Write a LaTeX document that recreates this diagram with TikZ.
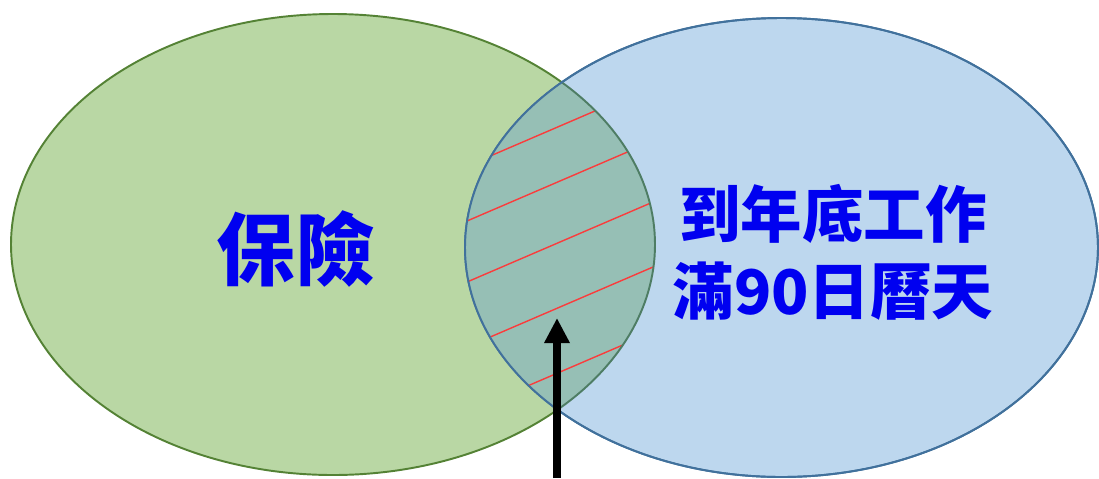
\documentclass[tikz,border=0pt]{standalone}
\usepackage{fontspec}
\newfontfamily\cjk{Noto Sans CJK TC}
\usetikzlibrary{arrows.meta,positioning}

\definecolor{setgreen}{RGB}{185,215,164}
\definecolor{greenline}{RGB}{84,130,53}
\definecolor{setblue}{RGB}{189,215,238}
\definecolor{blueline}{RGB}{65,113,156}
\definecolor{lensfill}{RGB}{150,191,181}
\definecolor{lensline}{RGB}{78,125,100}
\definecolor{hatchred}{RGB}{250,60,60}
\definecolor{labelblue}{RGB}{0,0,240}

\begin{document}
\begin{tikzpicture}[
            x=0.02cm, y=-0.02cm,
            greenset/.style={ fill=setgreen, draw=greenline, line width=1.1pt },
            blueset/.style={ fill=setblue, draw=blueline, line width=1.1pt },
            hatch/.style={ draw=hatchred, line width=0.8pt },
            setlabel/.style={ text=labelblue, align=center },
            pointer/.style={ -{Triangle[width=0.48cm,length=0.5cm]}, line width=4.5pt, black }
        ]
        \useasboundingbox (0,0) rectangle (1099,478);

        \coordinate (insure) at (333,244.5);
        \coordinate (work) at (781.5,247.5);

        \path[greenset] (insure) ellipse [x radius=322, y radius=230.5];
        \path[blueset] (work) ellipse [x radius=316.5, y radius=229.5];

        % overlap of the two sets
        \begin{scope}
            \clip (work) ellipse [x radius=316.5, y radius=229.5];
            \begin{scope}
                \clip (insure) ellipse [x radius=322, y radius=230.5];
                \fill[lensfill] (400,0) rectangle (720,478);
                \foreach \c in {126,181,242,307,372}
                    \draw[hatch] (400,{\c+68.8}) -- (720,{\c-68.8});
            \end{scope}
            \draw[draw=lensline, line width=1.1pt] (insure) ellipse [x radius=322, y radius=230.5];
        \end{scope}
        \draw[draw=blueline, line width=1.1pt] (work) ellipse [x radius=316.5, y radius=229.5];

        \node[setlabel, font=\cjk\bfseries\fontsize{45}{54}\selectfont] (insurelabel) at (296,249) {保險};
        \node[setlabel, font=\cjk\bfseries\fontsize{35}{43.7}\selectfont] (worklabel) at (833,252) {到年底工作\\滿90日曆天};

        \coordinate (arrowfoot) at (557,478);
        \coordinate (arrowtip) at (557,318);
        \draw[pointer] (arrowfoot) -- (arrowtip);
    \end{tikzpicture}
\end{document}
